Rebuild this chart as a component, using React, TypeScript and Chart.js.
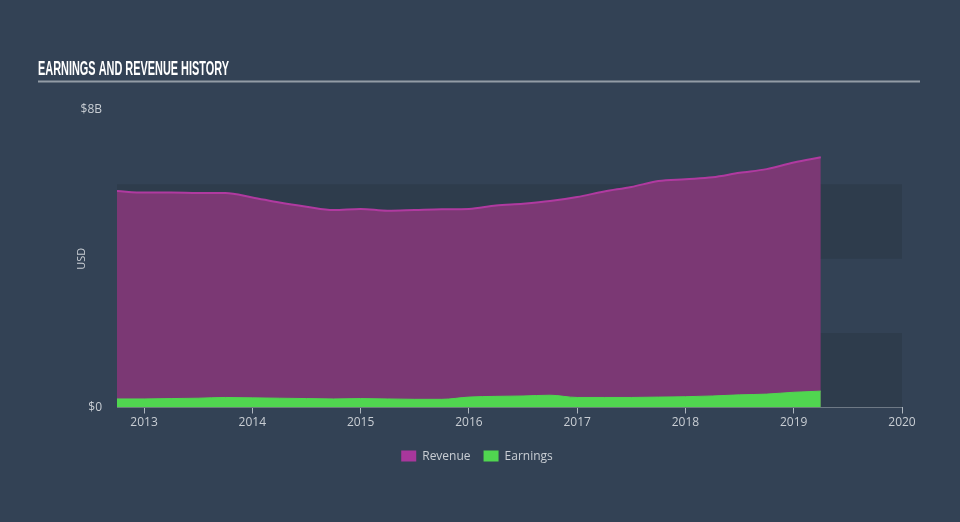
import React, { useEffect, useRef } from "react";
import { Chart, registerables } from "chart.js";

Chart.register(...registerables);

const quarters = [
  2012.75, 2013.0, 2013.25, 2013.5, 2013.75, 2014.0, 2014.25, 2014.5, 2014.75,
  2015.0, 2015.25, 2015.5, 2015.75, 2016.0, 2016.25, 2016.5, 2016.75, 2017.0,
  2017.25, 2017.5, 2017.75, 2018.0, 2018.25, 2018.5, 2018.75, 2019.0, 2019.25,
];
// billions USD
const revenue = [
  5.82, 5.78, 5.78, 5.77, 5.77, 5.65, 5.51, 5.4, 5.31, 5.34, 5.29, 5.31, 5.33,
  5.34, 5.43, 5.48, 5.55, 5.66, 5.81, 5.93, 6.09, 6.14, 6.19, 6.31, 6.41, 6.59,
  6.73,
];
const earnings = [
  0.23, 0.23, 0.24, 0.25, 0.27, 0.26, 0.25, 0.24, 0.23, 0.24, 0.23, 0.22, 0.22,
  0.28, 0.3, 0.31, 0.33, 0.27, 0.27, 0.27, 0.28, 0.29, 0.31, 0.34, 0.36, 0.41,
  0.44,
];
const yearTicks = [2013, 2014, 2015, 2016, 2017, 2018, 2019, 2020];
const seriesNames = ["Revenue", "Earnings"];
const titleText = "EARNINGS AND REVENUE HISTORY";

const BG = "#334255";
const BAND = "#2e3c4c";
const TEXT = "#c9ced4";
const AXIS = "#aeb6bf";

const decorPlugin = {
  id: "decor",
  beforeDatasetsDraw(chart: any) {
    const { ctx, chartArea, scales } = chart;
    const y = scales.y;
    ctx.save();
    ctx.fillStyle = BAND;
    [0, 4].forEach((lo) => {
      const top = y.getPixelForValue(lo + 2);
      const bot = y.getPixelForValue(lo);
      ctx.fillRect(chartArea.left, top, chartArea.right - chartArea.left, bot - top);
    });
    ctx.restore();
  },
  afterDraw(chart: any) {
    const { ctx } = chart;
    ctx.save();
    ctx.font = 'bold 21px "Liberation Sans Narrow", "Liberation Sans", sans-serif';
    const w = ctx.measureText(titleText).width;
    ctx.translate(38, 74.5);
    ctx.scale(191 / w, 1);
    ctx.fillStyle = "#ffffff";
    ctx.textBaseline = "alphabetic";
    ctx.fillText(titleText, 0, 0);
    ctx.restore();
    ctx.save();
    ctx.strokeStyle = "#939ca6";
    ctx.lineWidth = 2;
    ctx.beginPath();
    ctx.moveTo(38, 81.5);
    ctx.lineTo(920, 81.5);
    ctx.stroke();
    ctx.restore();
    ctx.save();
    ctx.font = '12px "Open Sans", sans-serif';
    ctx.textBaseline = "middle";
    const sw = 15, sh = 11, gap = 6, spacing = 13;
    const items = chart.data.datasets.map((d: any) => ({
      label: d.label,
      color: d.legendColor,
      tw: ctx.measureText(d.label).width,
    }));
    const total = items.reduce((s: number, it: any) => s + sw + gap + it.tw, 0) + spacing * (items.length - 1);
    let x = 477 - total / 2;
    const cy = 456;
    items.forEach((it: any) => {
      ctx.fillStyle = it.color;
      ctx.fillRect(x, cy - sh / 2, sw, sh);
      x += sw + gap;
      ctx.fillStyle = TEXT;
      ctx.fillText(it.label, x, cy + 0.5);
      x += it.tw + spacing;
    });
    ctx.restore();
  },
};

export default function App() {
  const ref = useRef<HTMLCanvasElement>(null);
  useEffect(() => {
    if (!ref.current) return;
    const chart = new Chart(ref.current, {
      type: "line",
      data: {
        datasets: [
          {
            label: seriesNames[0],
            data: quarters.map((q, i) => ({ x: q, y: revenue[i] })),
            borderColor: "#b03aa0",
            backgroundColor: "#7b3874",
            legendColor: "#a8379c",
            borderWidth: 2,
            fill: "origin",
            pointRadius: 0,
            cubicInterpolationMode: "monotone",
            order: 1,
          } as any,
          {
            label: seriesNames[1],
            data: quarters.map((q, i) => ({ x: q, y: earnings[i] })),
            borderColor: "#50d650",
            backgroundColor: "#50d650",
            legendColor: "#50d650",
            borderWidth: 1,
            fill: "origin",
            pointRadius: 0,
            cubicInterpolationMode: "monotone",
            order: 0,
          } as any,
        ],
      },
      options: {
        animation: false,
        responsive: false,
        maintainAspectRatio: false,
        layout: { padding: { left: 71, right: 58, top: 110, bottom: 84.5 } },
        plugins: { legend: { display: false }, tooltip: { enabled: false } },
        scales: {
          x: {
            type: "linear",
            min: 2012.75,
            max: 2020,
            afterBuildTicks: (s: any) => {
              s.ticks = yearTicks.map((v) => ({ value: v }));
            },
            afterFit: (s: any) => {
              s.height = 30;
            },
            grid: {
              display: true,
              drawOnChartArea: false,
              drawTicks: true,
              tickLength: 6,
              color: AXIS,
            },
            border: { display: true, color: AXIS, width: 1 },
            ticks: {
              color: TEXT,
              padding: 2,
              maxRotation: 0,
              font: { family: "Open Sans", size: 12 },
              callback: (v: any) => String(v),
            },
          },
          y: {
            min: 0,
            max: 8,
            afterFit: (s: any) => {
              s.width = 46;
            },
            grid: { display: false, drawTicks: false },
            border: { display: false },
            ticks: {
              stepSize: 2,
              padding: 15,
              color: TEXT,
              font: { family: "Open Sans", size: 12 },
              callback: (v: any) => (v === 0 ? "$0" : v === 8 ? "$8B" : ""),
            },
            title: {
              display: true,
              text: "USD",
              color: TEXT,
              font: { family: "Open Sans", size: 11 },
            },
          },
        },
      },
      plugins: [decorPlugin],
    } as any);
    return () => chart.destroy();
  }, []);
  return (
    <div style={{ position: "absolute", left: 0, top: 0, width: 960, height: 522, background: BG }}>
      <canvas ref={ref} width={960} height={522} style={{ width: 960, height: 522, display: "block" }} />
    </div>
  );
}
